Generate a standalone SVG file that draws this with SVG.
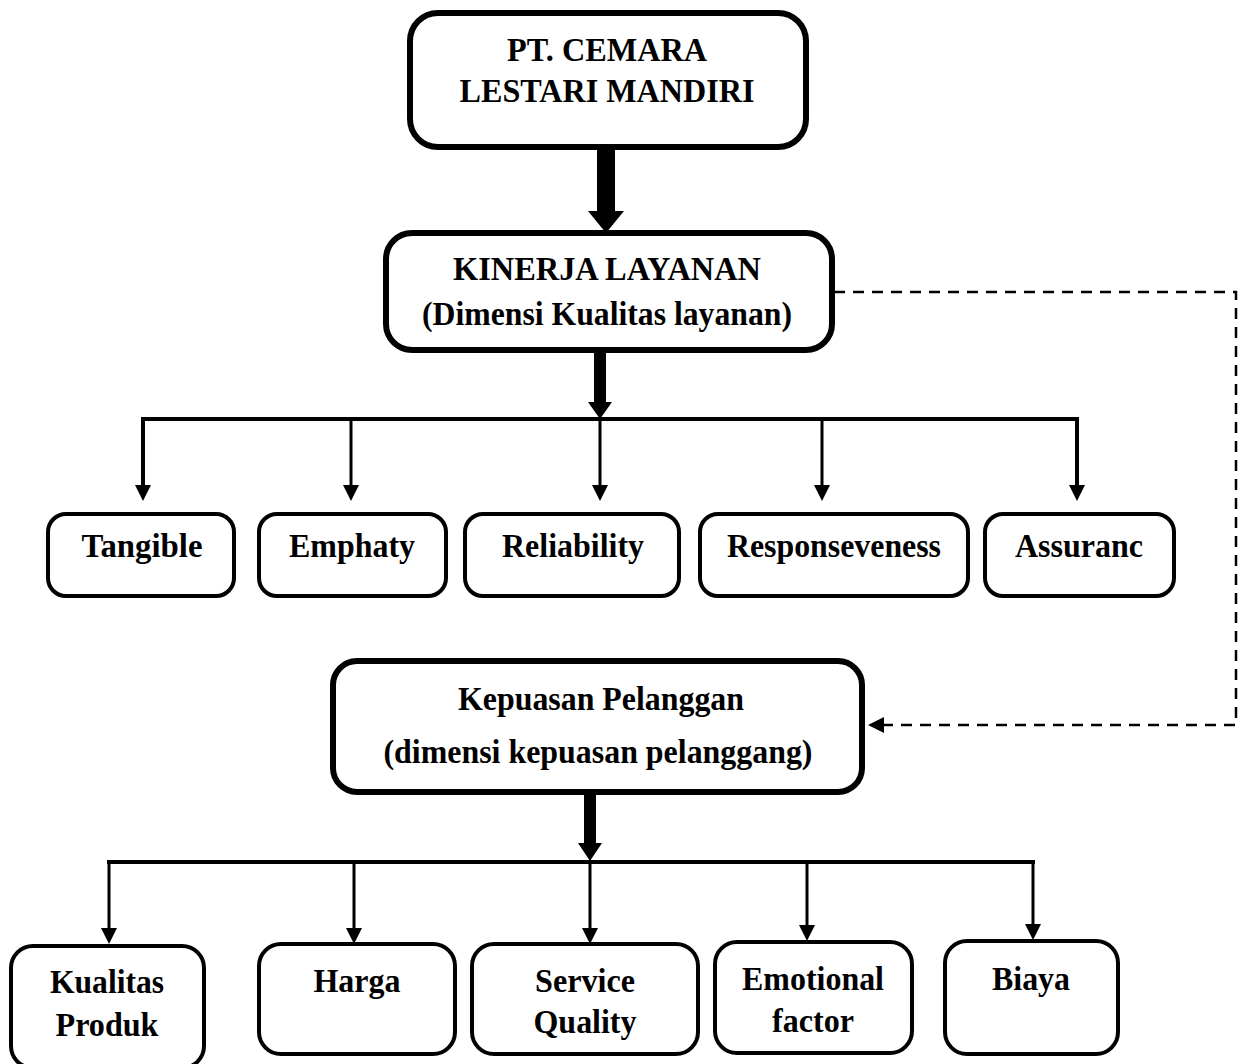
<svg xmlns="http://www.w3.org/2000/svg" width="1239" height="1064" viewBox="0 0 1239 1064">
<style>
.box{fill:#fff;stroke:#000;}
.big{stroke-width:6;}
.sm{stroke-width:4;}
.t{font-family:"Liberation Serif","Times New Roman",serif;font-weight:bold;font-size:34px;fill:#000;text-anchor:middle;}
.ln{stroke:#000;stroke-width:3;fill:none;}
.bar{stroke:#000;stroke-width:4;fill:none;}
.dash{stroke:#000;stroke-width:2.5;fill:none;stroke-dasharray:11,8;}
.hd{fill:#000;stroke:none;}
</style>
<rect width="1239" height="1064" fill="#fff"/>
<g id="connectors">
  <rect class="hd" x="597" y="147" width="18" height="65"/>
  <polygon class="hd" points="588,211 624,211 606,233"/>
  <rect class="hd" x="594" y="350" width="12" height="53"/>
  <polygon class="hd" points="588,402 612,402 600,419"/>
  <polyline class="bar" points="143,490 143,419 1077,419 1077,490"/>
  <line class="ln" x1="351" y1="419" x2="351" y2="490"/>
  <line class="ln" x1="600" y1="419" x2="600" y2="490"/>
  <line class="ln" x1="822" y1="419" x2="822" y2="490"/>
  <polygon class="hd" points="135,485 151,485 143,501"/>
  <polygon class="hd" points="343,485 359,485 351,501"/>
  <polygon class="hd" points="592,485 608,485 600,501"/>
  <polygon class="hd" points="814,485 830,485 822,501"/>
  <polygon class="hd" points="1069,485 1085,485 1077,501"/>
  <polyline class="dash" points="834,292 1236,292 1236,725 884,725"/>
  <polygon class="hd" points="868,725 884,717 884,733"/>
  <rect class="hd" x="584" y="793" width="12" height="52"/>
  <polygon class="hd" points="578,843 602,843 590,861"/>
  <line class="bar" x1="107" y1="862" x2="1035" y2="862"/>
  <line class="ln" x1="109" y1="862" x2="109" y2="932"/>
  <line class="ln" x1="354" y1="862" x2="354" y2="932"/>
  <line class="ln" x1="590" y1="862" x2="590" y2="932"/>
  <line class="ln" x1="807" y1="862" x2="807" y2="929"/>
  <line class="ln" x1="1033" y1="862" x2="1033" y2="928"/>
  <polygon class="hd" points="101,928 117,928 109,944"/>
  <polygon class="hd" points="346,928 362,928 354,944"/>
  <polygon class="hd" points="582,928 598,928 590,944"/>
  <polygon class="hd" points="799,925 815,925 807,941"/>
  <polygon class="hd" points="1025,924 1041,924 1033,940"/>
</g>
<g id="node-pt">
  <rect class="box big" x="410" y="13" width="396" height="134" rx="28"/>
  <text class="t" x="607" y="61" textLength="200" lengthAdjust="spacingAndGlyphs">PT. CEMARA</text>
  <text class="t" x="607" y="102" textLength="295" lengthAdjust="spacingAndGlyphs">LESTARI MANDIRI</text>
</g>
<g id="node-kinerja">
  <rect class="box big" x="386" y="233" width="446" height="117" rx="26"/>
  <text class="t" x="607" y="280" textLength="308" lengthAdjust="spacingAndGlyphs">KINERJA LAYANAN</text>
  <text class="t" x="607" y="325" textLength="370" lengthAdjust="spacingAndGlyphs">(Dimensi Kualitas layanan)</text>
</g>
<g id="node-tangible">
  <rect class="box sm" x="48" y="514" width="186" height="82" rx="18"/>
  <text class="t" x="142" y="557" textLength="121" lengthAdjust="spacingAndGlyphs">Tangible</text>
</g>
<g id="node-emphaty">
  <rect class="box sm" x="259" y="514" width="187" height="82" rx="18"/>
  <text class="t" x="352" y="557" textLength="126" lengthAdjust="spacingAndGlyphs">Emphaty</text>
</g>
<g id="node-reliability">
  <rect class="box sm" x="465" y="514" width="214" height="82" rx="18"/>
  <text class="t" x="573" y="557" textLength="142" lengthAdjust="spacingAndGlyphs">Reliability</text>
</g>
<g id="node-responseveness">
  <rect class="box sm" x="700" y="514" width="268" height="82" rx="18"/>
  <text class="t" x="834" y="557" textLength="214" lengthAdjust="spacingAndGlyphs">Responseveness</text>
</g>
<g id="node-assuranc">
  <rect class="box sm" x="985" y="514" width="189" height="82" rx="18"/>
  <text class="t" x="1079" y="557" textLength="128" lengthAdjust="spacingAndGlyphs">Assuranc</text>
</g>
<g id="node-kepuasan">
  <rect class="box big" x="333" y="661" width="529" height="131" rx="24"/>
  <text class="t" x="601" y="710" textLength="286" lengthAdjust="spacingAndGlyphs">Kepuasan Pelanggan</text>
  <text class="t" x="598" y="763" textLength="429" lengthAdjust="spacingAndGlyphs">(dimensi kepuasan pelanggang)</text>
</g>
<g id="node-kualitas">
  <rect class="box sm" x="11" y="946" width="193" height="122" rx="22"/>
  <text class="t" x="107" y="993" textLength="114" lengthAdjust="spacingAndGlyphs">Kualitas</text>
  <text class="t" x="107" y="1036" textLength="103" lengthAdjust="spacingAndGlyphs">Produk</text>
</g>
<g id="node-harga">
  <rect class="box sm" x="259" y="944" width="196" height="110" rx="22"/>
  <text class="t" x="357" y="992" textLength="87" lengthAdjust="spacingAndGlyphs">Harga</text>
</g>
<g id="node-service">
  <rect class="box sm" x="472" y="944" width="226" height="110" rx="22"/>
  <text class="t" x="585" y="992" textLength="100" lengthAdjust="spacingAndGlyphs">Service</text>
  <text class="t" x="585" y="1033" textLength="103" lengthAdjust="spacingAndGlyphs">Quality</text>
</g>
<g id="node-emotional">
  <rect class="box sm" x="715" y="942" width="197" height="111" rx="22"/>
  <text class="t" x="813" y="990" textLength="142" lengthAdjust="spacingAndGlyphs">Emotional</text>
  <text class="t" x="813" y="1032" textLength="82" lengthAdjust="spacingAndGlyphs">factor</text>
</g>
<g id="node-biaya">
  <rect class="box sm" x="945" y="941" width="173" height="113" rx="22"/>
  <text class="t" x="1031" y="990" textLength="78" lengthAdjust="spacingAndGlyphs">Biaya</text>
</g>
</svg>
